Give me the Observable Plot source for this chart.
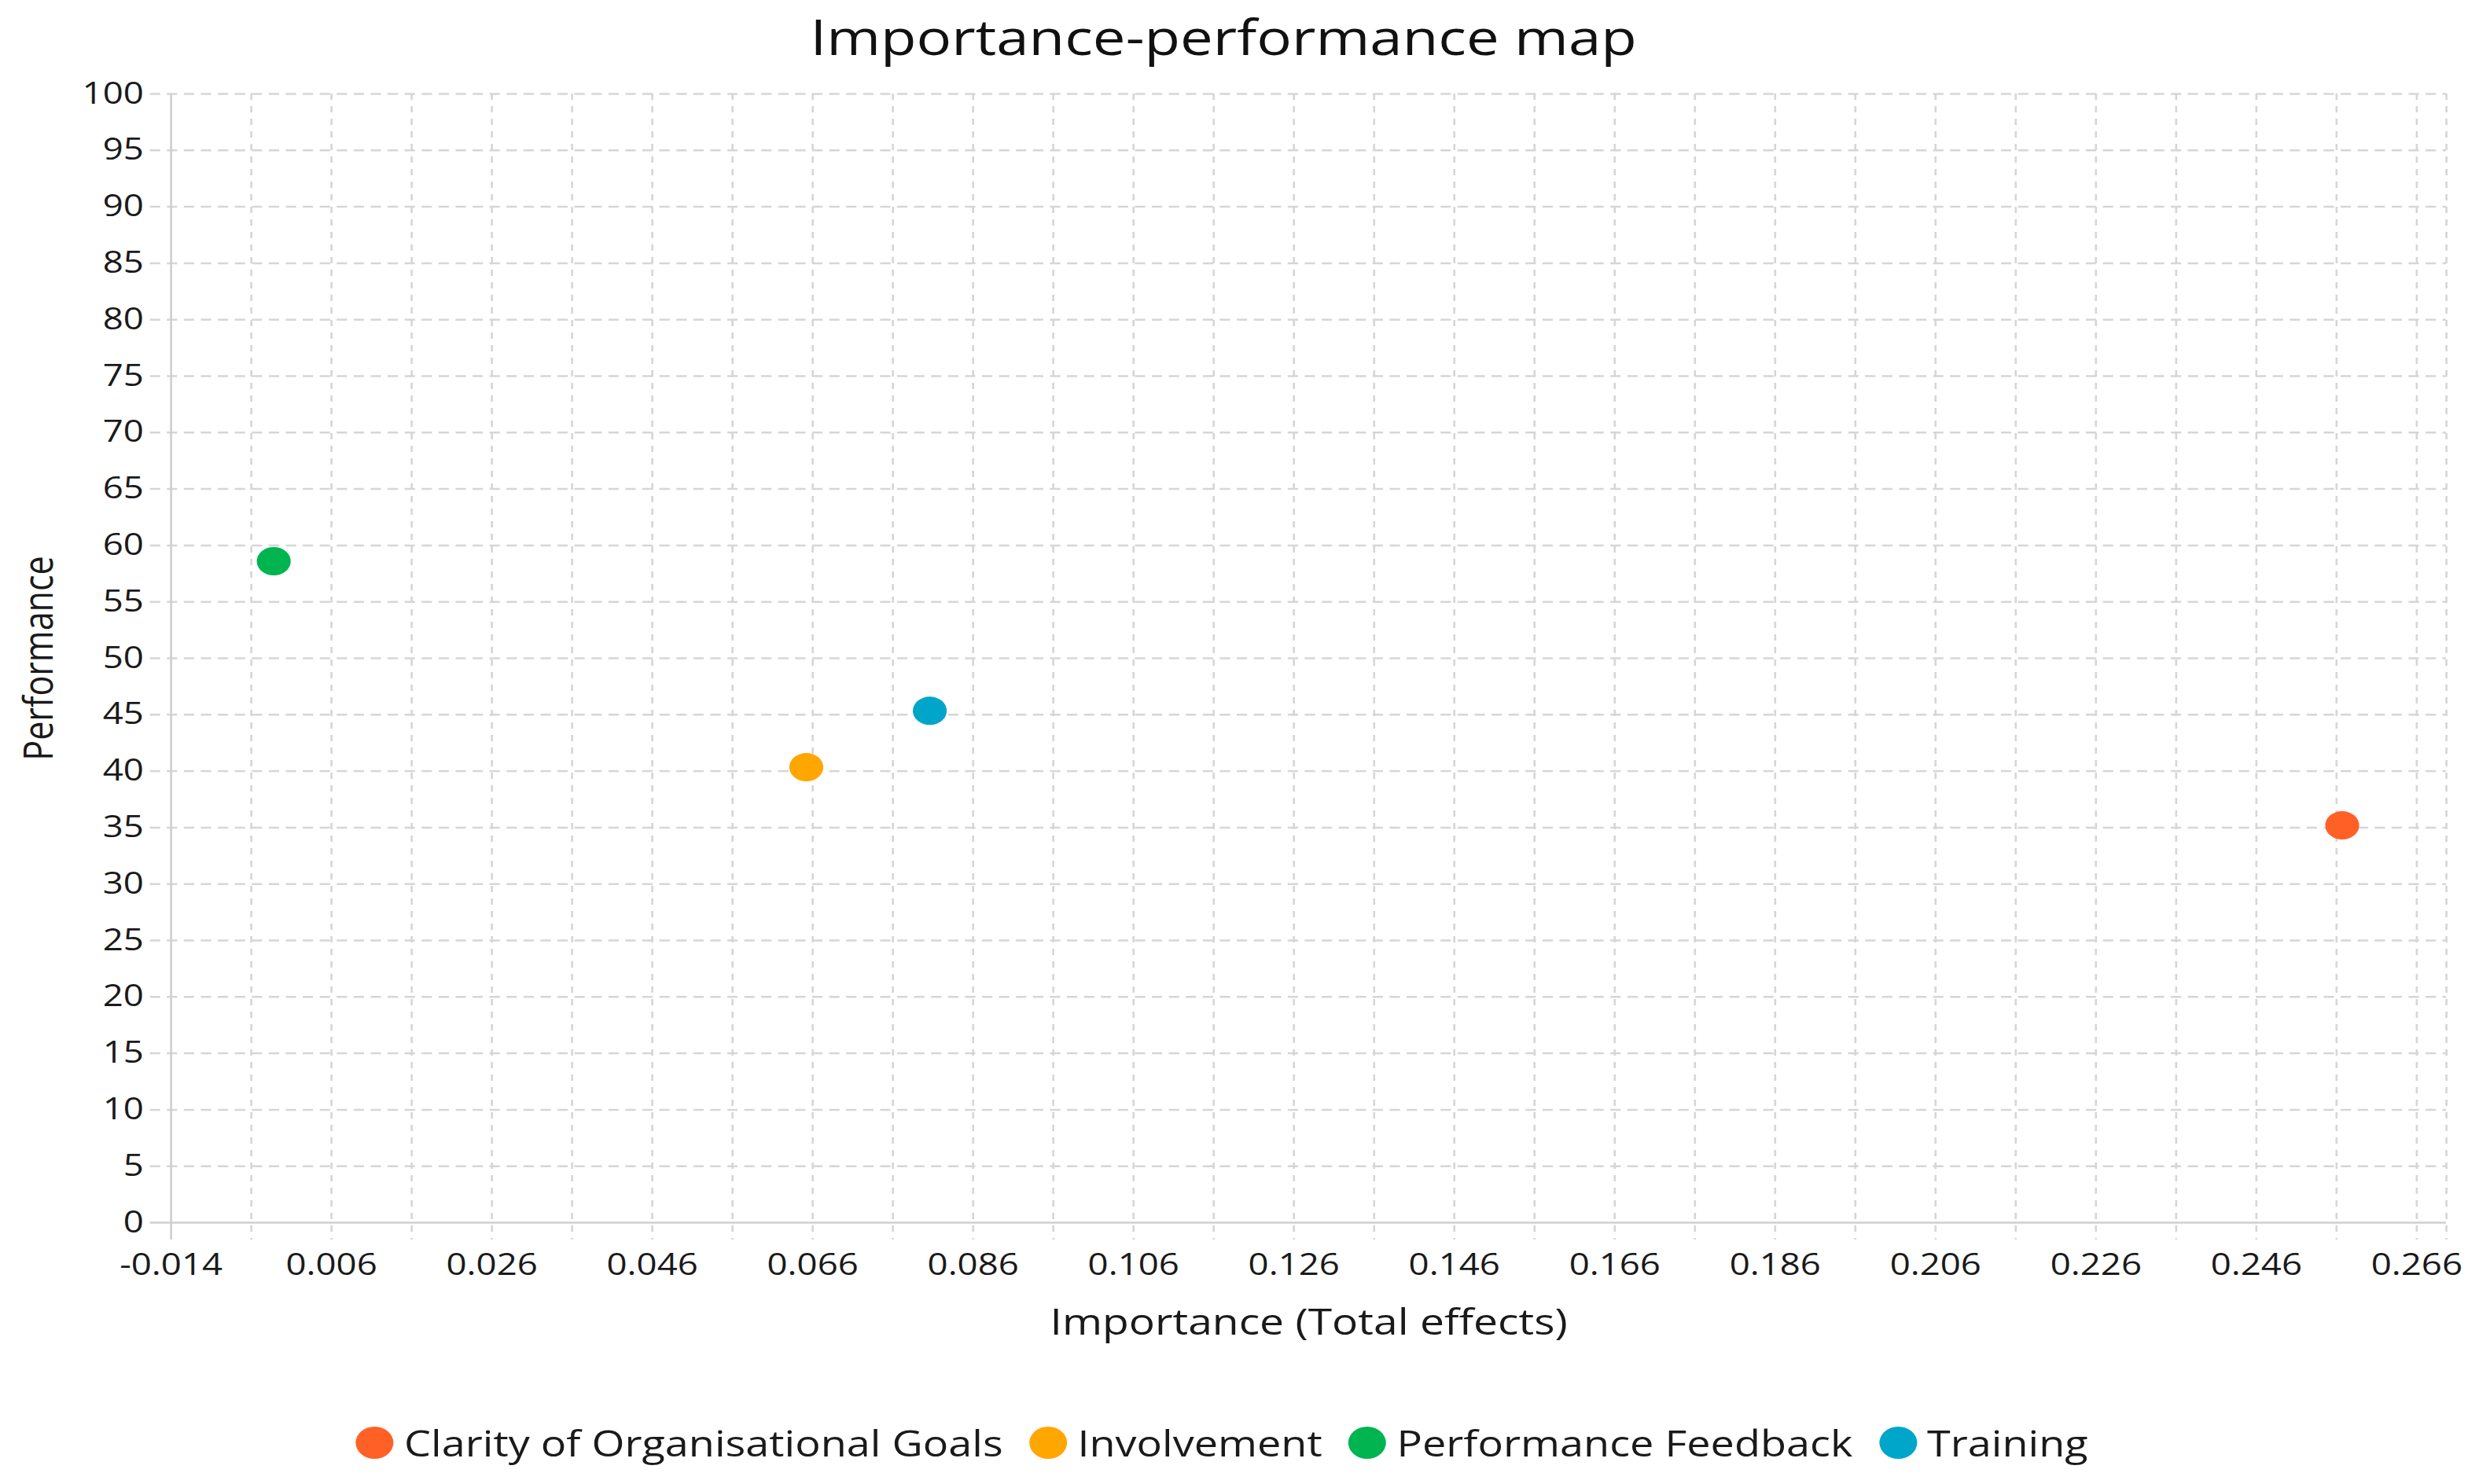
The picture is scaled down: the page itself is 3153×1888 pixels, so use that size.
<!DOCTYPE html>
<html>
<head>
<meta charset="utf-8">
<script src="https://cdn.jsdelivr.net/npm/d3@7"></script>
<script src="https://cdn.jsdelivr.net/npm/@observablehq/plot@0.6"></script>
<style>
  html, body { margin: 0; padding: 0; background: #fff; overflow: hidden; }
  #wrap { transform-origin: 0 0; font-family: "Open Sans", sans-serif; color: #111; }
  #title { text-align: center; font-size: 62px; height: 80px; line-height: 92px; white-space: nowrap; padding-right: 34px; overflow: visible; }
  #legend { display: flex; justify-content: center; align-items: center; padding-top: 69px; padding-right: 37px; height: 93px; line-height: 60px; font-size: 45px; color: #1a1a1a; white-space: nowrap; }
  .item { display: flex; align-items: center; margin: 0 14px; }
  .sw { width: 40px; height: 41px; border-radius: 50%; margin-right: 11px; display: inline-block; }
</style>
</head>
<body>
<div id="wrap">
  <div id="title"></div>
  <div id="chart"></div>
  <div id="legend"></div>
</div>
<script>
// ---- data ----
const categories = ["Clarity of Organisational Goals", "Involvement", "Performance Feedback", "Training"];
const importance = [0.2567, 0.0652, -0.0012, 0.0806];
const performance = [35.2, 40.35, 58.6, 45.35];
const colors = ["#FF6026", "#FFA600", "#00B450", "#00A6CA"];

const xTicks = [-0.014, 0.006, 0.026, 0.046, 0.066, 0.086, 0.106, 0.126, 0.146, 0.166, 0.186, 0.206, 0.226, 0.246, 0.266];
const xGrid = [-0.004, 0.006, 0.016, 0.026, 0.036, 0.046, 0.056, 0.066, 0.076, 0.086, 0.096, 0.106, 0.116, 0.126, 0.136, 0.146, 0.156, 0.166, 0.176, 0.186, 0.196, 0.206, 0.216, 0.226, 0.236, 0.246, 0.256, 0.266, 0.2697];
const yTicks = [0, 5, 10, 15, 20, 25, 30, 35, 40, 45, 50, 55, 60, 65, 70, 75, 80, 85, 90, 95, 100];
const xDomain = [-0.014, 0.2697];
const yDomain = [0, 100];

const titleText = "Importance-performance map";
const xLabel = "Importance (Total effects)";
const yLabel = "Performance";

// ---- layout ----
const W = 3153, S = 1.2;
const w = W / S;
document.getElementById("wrap").style.width = w + "px";
document.getElementById("wrap").style.transform = `scaleX(${W / w})`;
document.getElementById("title").textContent = titleText;

const data = categories.map((c, i) => ({cat: c, x: importance[i], y: performance[i]}));
const gridColor = "#d6d6d6";

const plot = Plot.plot({
  width: w,
  height: 1640,
  marginTop: 39,
  marginBottom: 165,
  marginLeft: 217 / S,
  marginRight: w - 3111 / S,
  style: {fontFamily: "Open Sans", background: "white", color: "#1a1a1a", overflow: "visible"},
  x: {domain: xDomain},
  y: {domain: yDomain},
  color: {domain: categories, range: colors},
  marks: [
    Plot.ruleY(yTicks.filter(d => d !== 0), {stroke: gridColor, strokeWidth: 2.5, strokeDasharray: "11,7", insetLeft: -22}),
    Plot.ruleX(xGrid, {stroke: gridColor, strokeWidth: 2.2, strokeDasharray: "8,8", insetBottom: -22}),
    Plot.ruleX([xDomain[0]], {stroke: "#cfcfcf", strokeWidth: 2.2, insetBottom: -22}),
    Plot.ruleY([0], {stroke: "#cfcfcf", strokeWidth: 2.5, insetLeft: -22}),
    Plot.axisX({ticks: xTicks, tickFormat: d => d.toFixed(3), tickSize: 0, tickPadding: 40, fontSize: 38, label: null}),
    Plot.axisY({ticks: yTicks, tickSize: 0, tickPadding: 29, fontSize: 38, label: null}),
    Plot.dot(data, {x: "x", y: "y", r: 18, fill: "cat", stroke: null}),
    Plot.text([xLabel], {frameAnchor: "bottom", dy: 128, text: d => d, fontSize: 46, lineAnchor: "middle", fill: "#1a1a1a"}),
    Plot.text([yLabel], {frameAnchor: "left", textAnchor: "middle", dx: -139, rotate: -90, text: d => d, fontSize: 43, lineAnchor: "middle", fill: "#1a1a1a"})
  ]
});
document.getElementById("chart").appendChild(plot);

const legend = document.getElementById("legend");
categories.forEach((c, i) => {
  const it = document.createElement("span");
  it.className = "item";
  const sw = document.createElement("span");
  sw.className = "sw";
  sw.style.background = colors[i];
  const t = document.createElement("span");
  t.textContent = c;
  it.appendChild(sw);
  it.appendChild(t);
  legend.appendChild(it);
});
</script>
</body>
</html>
